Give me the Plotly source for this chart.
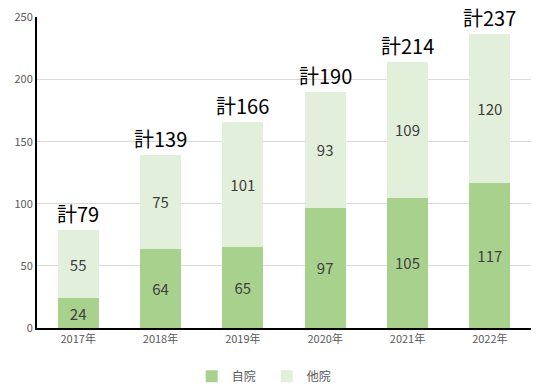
import plotly.graph_objects as go

years = ["2017年", "2018年", "2019年", "2020年", "2021年", "2022年"]
own = [24, 64, 65, 97, 105, 117]
other = [55, 75, 101, 93, 109, 120]
totals = [79, 139, 166, 190, 214, 237]
yticks = [0, 50, 100, 150, 200, 250]

FONT = "Noto Sans CJK JP, Liberation Sans, sans-serif"

fig = go.Figure()
fig.add_trace(go.Bar(
    x=years, y=own, name="自院", marker=dict(color="#a9d18e", line=dict(width=0)),
    text=own, textposition="inside", insidetextanchor="middle",
    textfont=dict(size=15, color="#404040", family=FONT), textangle=0,
))
fig.add_trace(go.Bar(
    x=years, y=other, name="他院", marker=dict(color="#e2efda", line=dict(width=0)),
    text=other, textposition="inside", insidetextanchor="middle",
    textfont=dict(size=15, color="#404040", family=FONT), textangle=0,
))

for yr, t in zip(years, totals):
    fig.add_annotation(x=yr, y=t, text=f"計{t}", showarrow=False, yanchor="bottom",
                       yshift=1, borderpad=0,
                       font=dict(size=20, color="#000000", family=FONT))

fig.update_layout(
    barmode="stack",
    bargap=0.5,
    width=540, height=392,
    margin=dict(l=37, r=9, t=17, b=64, autoexpand=False),
    paper_bgcolor="white", plot_bgcolor="white",
    font=dict(family=FONT, color="#595959", size=11),
    legend=dict(orientation="h", x=0.465, xanchor="center", y=-0.155, yanchor="middle",
                font=dict(size=12, color="#595959"), traceorder="normal",
                itemwidth=30, entrywidth=30, tracegroupgap=0),
    xaxis=dict(showline=True, linecolor="#000000", linewidth=2, ticks="",
               tickfont=dict(size=11, color="#595959"), showgrid=False,
               automargin=False),
    yaxis=dict(range=[0, 250.4], tickvals=yticks, showline=True, linecolor="#000000",
               linewidth=2, showgrid=True, gridcolor="#d9d9d9", gridwidth=1,
               tickfont=dict(size=11, color="#595959"), zeroline=False, ticks="",
               automargin=False),
)
fig.write_html("out.html", config={"displayModeBar": False},
               post_script="document.body.style.margin='0px';")
